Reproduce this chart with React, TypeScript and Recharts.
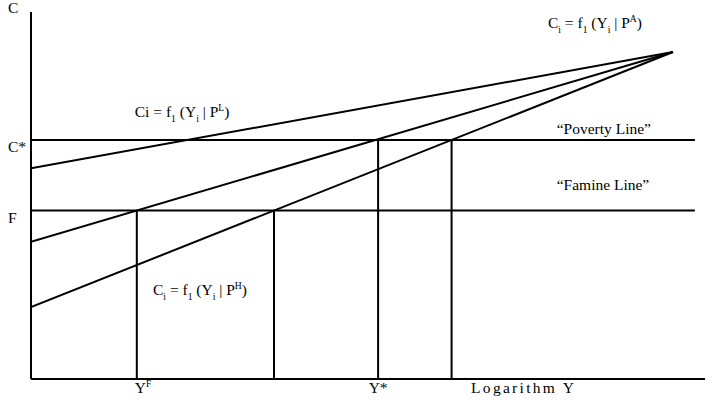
import { LineChart, Line, XAxis, YAxis, ReferenceDot } from "recharts";

// Everything is in abstract units: log income 0..100, consumption 0..100.
const curveIncome = [0, 95.25];
const consumptionLow = [57.4, 89.1]; // P^L
const consumptionAvg = [37.4, 89.1]; // P^A
const consumptionHigh = [19.6, 89.1]; // P^H
const thresholdIncome = [0, 98.5];
const povertyLevel = 65.1;
const famineLevel = 45.9;
const famineIncomes = [15.7, 36.05];
const povertyIncomes = [51.5, 62.4];

type Seg = [string, "" | "sub" | "sup"];

const yTickValues = [famineLevel, povertyLevel, 100];
const yTickLabels: Seg[][] = [[["F", ""]], [["C*", ""]], [["C", ""]]];
const xTickValues = [15.7, 51.5, 73.1];
const xTickLabels: Seg[][] = [
  [["Y", ""], ["F", "sup"]],
  [["Y*", ""]],
  [["Logarithm Y", ""]],
];

const labelAvg: Seg[] = [["C", ""], ["i", "sub"], [" = f", ""], ["1", "sub"], [" (Y", ""], ["i", "sub"], [" | P", ""], ["A", "sup"], [")", ""]];
const labelLow: Seg[] = [["Ci = f", ""], ["1", "sub"], [" (Y", ""], ["i", "sub"], [" | P", ""], ["L", "sup"], [")", ""]];
const labelHigh: Seg[] = [["C", ""], ["i", "sub"], [" = f", ""], ["1", "sub"], [" (Y", ""], ["i", "sub"], [" | P", ""], ["H", "sup"], [")", ""]];
const notes: { x: number; y: number; segs: Seg[] }[] = [
  { x: 76.7, y: 95.6, segs: labelAvg },
  { x: 15.4, y: 71.4, segs: labelLow },
  { x: 18.1, y: 22.9, segs: labelHigh },
  { x: 78.0, y: 66.8, segs: [["\u201CPoverty Line\u201D", ""]] },
  { x: 78.0, y: 51.5, segs: [["\u201CFamine Line\u201D", ""]] },
];

const FONT = "'Liberation Serif', 'Times New Roman', serif";
const SIZE = 15.5;

const segment = (xs: number[], ys: number[]) => xs.map((x, i) => ({ x, y: ys[i] }));
const vertical = (x: number, top: number) => [{ x, y: 0 }, { x, y: top }];

function Rich({ x, y, segs, anchor = "start", spacing = 0 }: { x: number; y: number; segs: Seg[]; anchor?: string; spacing?: number }) {
  let shift = 0;
  return (
    <text
      x={x}
      y={y}
      fontFamily={FONT}
      fontSize={SIZE}
      textAnchor={anchor}
      fill="#000"
      letterSpacing={spacing}
      style={{ whiteSpace: "pre" }}
    >
      {segs.map(([t, m], i) => {
        const target = m === "sub" ? SIZE * 0.3 : m === "sup" ? -SIZE * 0.4 : 0;
        const dy = target - shift;
        shift = target;
        return (
          <tspan key={i} dy={dy} fontSize={m ? SIZE * 0.62 : SIZE}>
            {t}
          </tspan>
        );
      })}
    </text>
  );
}

function XTick(props: any) {
  const i = xTickValues.indexOf(props.payload.value);
  const anchor = i === 0 ? "start" : "middle";
  return (
    <Rich
      x={props.x - (i === 0 ? 2 : 0)}
      y={props.y + 6}
      segs={xTickLabels[i]}
      anchor={anchor}
      spacing={i === 2 ? 2.3 : 0}
    />
  );
}

function YTick(props: any) {
  const i = yTickValues.indexOf(props.payload.value);
  const dy = i === 2 ? 1 : 12;
  return <Rich x={8} y={props.y + dy} segs={yTickLabels[i]} />;
}

const stroke = { stroke: "#000", strokeWidth: 2, dot: false, isAnimationActive: false, legendType: "none" as const };

export default function App() {
  return (
    <div style={{ position: "absolute", left: 0, top: 0, background: "#fff" }}>
      <LineChart width={717} height={406} margin={{ top: 12, right: 12, bottom: 0, left: 0 }}>
        <XAxis
          dataKey="x"
          type="number"
          domain={[0, 100]}
          ticks={xTickValues}
          interval={0}
          tickLine={false}
          axisLine={{ stroke: "#000", strokeWidth: 2 }}
          height={27}
          tick={<XTick />}
          allowDataOverflow
        />
        <YAxis
          type="number"
          domain={[0, 100]}
          ticks={yTickValues}
          interval={0}
          tickLine={false}
          axisLine={{ stroke: "#000", strokeWidth: 2 }}
          width={31}
          tick={<YTick />}
          allowDataOverflow
        />
        <Line data={segment(thresholdIncome, [povertyLevel, povertyLevel])} dataKey="y" {...stroke} />
        <Line data={segment(thresholdIncome, [famineLevel, famineLevel])} dataKey="y" {...stroke} />
        <Line data={segment(curveIncome, consumptionLow)} dataKey="y" {...stroke} />
        <Line data={segment(curveIncome, consumptionAvg)} dataKey="y" {...stroke} />
        <Line data={segment(curveIncome, consumptionHigh)} dataKey="y" {...stroke} />
        {famineIncomes.map((x) => (
          <Line key={`f${x}`} data={vertical(x, famineLevel)} dataKey="y" {...stroke} />
        ))}
        {povertyIncomes.map((x) => (
          <Line key={`p${x}`} data={vertical(x, povertyLevel)} dataKey="y" {...stroke} />
        ))}
        {notes.map((n, i) => (
          <ReferenceDot
            key={i}
            x={n.x}
            y={n.y}
            r={0}
            shape={(p: any) => <Rich x={p.cx} y={p.cy} segs={n.segs} />}
          />
        ))}
      </LineChart>
    </div>
  );
}
